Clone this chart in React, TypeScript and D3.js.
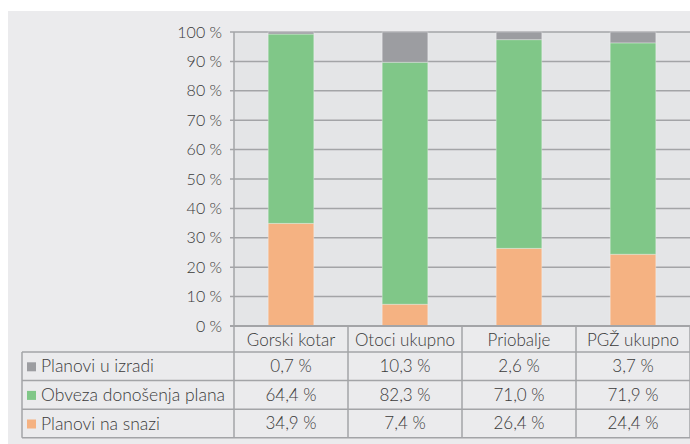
import React from 'react';
import * as d3 from 'd3';

const categories = ['Gorski kotar', 'Otoci ukupno', 'Priobalje', 'PGŽ ukupno'];
const seriesNames = ['Planovi na snazi', 'Obveza donošenja plana', 'Planovi u izradi'];
const naSnazi = [34.9, 7.4, 26.4, 24.4];
const obveza = [64.4, 82.3, 71.0, 71.9];
const uIzradi = [0.7, 10.3, 2.6, 3.7];
const seriesColors = ['#f5b282', '#80c788', '#9c9da1'];
const yTicks = [0, 10, 20, 30, 40, 50, 60, 70, 80, 90, 100];

const fmt = (v: number) => d3.format('.1f')(v).replace('.', ',') + ' %';

const App = () => {
  const W = 690, H = 444;
  const left = 234, right = 690, top = 32, bottom = 326;
  const rowH = 28.6;
  const headerBottom = 352;
  const tableLeft = 22;
  const font = 'Lato, sans-serif';
  const textColor = '#3a3a3a';
  const lineColor = '#a3a4a7';

  const rows = categories.map((c, i) => ({
    cat: c,
    [seriesNames[0]]: naSnazi[i],
    [seriesNames[1]]: obveza[i],
    [seriesNames[2]]: uIzradi[i],
  }));
  const stacked = d3.stack<any>().keys(seriesNames)(rows);

  const x = d3.scaleBand().domain(categories).range([left, right]).paddingInner(0.6).paddingOuter(0.3);
  const col = d3.scaleBand().domain(categories).range([left, right]);
  const y = d3.scaleLinear().domain([0, 100]).range([bottom, top]);

  // table rows: top row = last series (gray)
  const tableRows = seriesNames.map((name, i) => ({ name, color: seriesColors[i], values: [naSnazi, obveza, uIzradi][i] })).reverse();
  const tableBottom = headerBottom + rowH * tableRows.length;

  return (
    <svg width={W} height={H} style={{ position: 'absolute', left: 0, top: 0 }} fontFamily={font} fontWeight={300}>
      <rect x={0} y={0} width={W} height={H} fill="#fff" />
      <rect x={8} y={11} width={W - 8} height={H - 11} fill="#ebebed" />
      <rect x={left} y={top} width={right - left} height={bottom - top} fill="#e4e5e7" />

      {yTicks.map(t => (
        <g key={t}>
          <line x1={left - 4} x2={right} y1={y(t)} y2={y(t)} stroke={lineColor} strokeWidth={1.5} />
          <text x={222} y={y(t)} dy="0.35em" textAnchor="end" fontSize={16} fill={textColor}>{t} %</text>
        </g>
      ))}

      {stacked.map((s, si) => (
        <g key={s.key} fill={seriesColors[si]}>
          {s.map((d, i) => (
            <rect key={i} x={x(categories[i])} width={x.bandwidth()} y={y(d[1])} height={y(d[0]) - y(d[1])}
              stroke="#fff" strokeOpacity={0.3} strokeWidth={1} />
          ))}
        </g>
      ))}

      {/* table */}
      <line x1={left} x2={left} y1={top} y2={tableBottom} stroke={lineColor} strokeWidth={1.5} />
      <line x1={left - 4} x2={right} y1={bottom} y2={bottom} stroke={lineColor} strokeWidth={2} />
      {categories.map(c => (
        <g key={c}>
          <line x1={(col(c) as number) + col.bandwidth()} x2={(col(c) as number) + col.bandwidth()} y1={bottom} y2={tableBottom} stroke={lineColor} strokeWidth={1.5} />
          <text x={(col(c) as number) + col.bandwidth() / 2} y={(bottom + headerBottom) / 2 + 1} dy="0.35em" textAnchor="middle" fontSize={17} fill={textColor}>{c}</text>
        </g>
      ))}
      <line x1={tableLeft} x2={tableLeft} y1={headerBottom} y2={tableBottom} stroke={lineColor} strokeWidth={1.5} />
      {tableRows.map((r, ri) => {
        const ry = headerBottom + ri * rowH;
        return (
          <g key={r.name}>
            <line x1={tableLeft} x2={right} y1={ry} y2={ry} stroke={lineColor} strokeWidth={1.5} />
            <rect x={27} y={ry + rowH / 2 - 4} width={9} height={9} fill={r.color} />
            <text x={41} y={ry + rowH / 2} dy="0.35em" fontSize={17.5} fill={textColor}>{r.name}</text>
            {categories.map((c, ci) => (
              <text key={c} x={(col(c) as number) + col.bandwidth() / 2} y={ry + rowH / 2} dy="0.35em" textAnchor="middle" fontSize={17} fill={textColor}>{fmt(r.values[ci])}</text>
            ))}
          </g>
        );
      })}
      <line x1={tableLeft} x2={right} y1={tableBottom} y2={tableBottom} stroke={lineColor} strokeWidth={1.5} />
    </svg>
  );
};

export default App;
